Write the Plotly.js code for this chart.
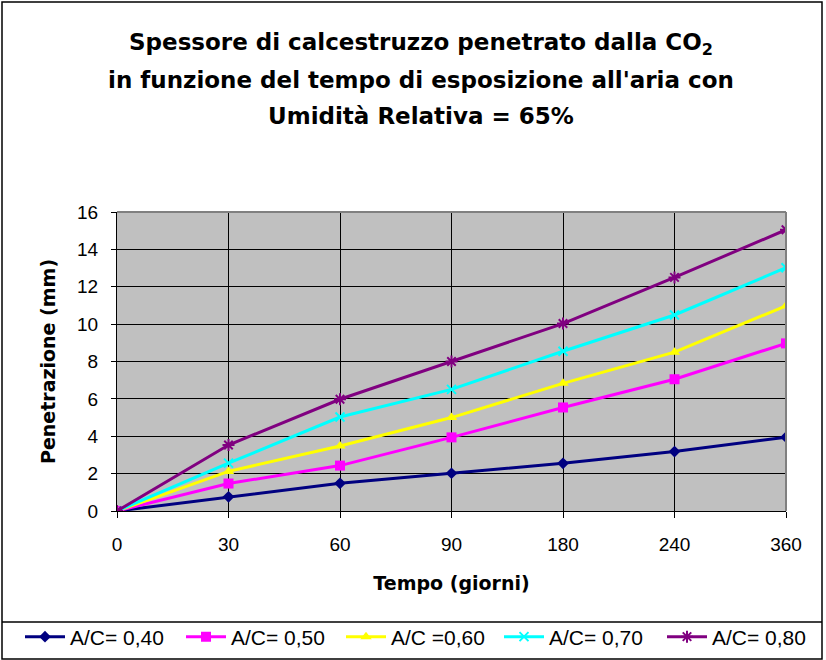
<!DOCTYPE html>
<html>
<head>
<meta charset="utf-8">
<script src="https://cdn.plot.ly/plotly-3.0.1.min.js"></script>
<style>html,body{margin:0;padding:0;background:#fff;}#chart{width:826px;height:660px;}</style>
</head>
<body>
<div id="chart"></div>
<script>
const days = ["0", "30", "60", "90", "180", "240", "360"];
const ac040 = [0, 0.76, 1.48, 2.02, 2.55, 3.18, 3.95];
const ac050 = [0, 1.47, 2.43, 3.94, 5.54, 7.05, 8.97];
const ac060 = [0, 2.12, 3.48, 5.0, 6.83, 8.5, 10.98];
const ac070 = [0, 2.56, 5.03, 6.51, 8.55, 10.49, 13.02];
const ac080 = [0, 3.53, 5.98, 8.0, 10.03, 12.5, 15.05];
const names = ["A/C= 0,40", "A/C= 0,50", "A/C =0,60", "A/C= 0,70", "A/C= 0,80"];
const yTicks = [0, 2, 4, 6, 8, 10, 12, 14, 16];
const titleLines = [
  "<b>Spessore di calcestruzzo penetrato dalla CO<sub>2</sub></b>",
  "<b>in funzione del tempo di esposizione all'aria con</b>",
  "<b>Umidità Relativa = 65%</b>"
];

const series = [ac040, ac050, ac060, ac070, ac080];
const colors = ["#000080", "#FF00FF", "#FFFF00", "#00FFFF", "#800080"];
const symbols = ["diamond", "square", "triangle-up", "x-thin", "asterisk"];
const sizes = [9, 10, 10, 9, 10];
const legendIds = ["legend", "legend2", "legend3", "legend4", "legend5"];
const legendTextX = [71, 232, 392, 550, 713];

const traces = series.map((s, i) => ({
  x: days, y: s, name: names[i], type: "scatter", mode: "lines+markers",
  legend: legendIds[i],
  line: {color: colors[i], width: 3},
  marker: {symbol: symbols[i], size: sizes[i], color: colors[i],
           line: {color: colors[i], width: (i >= 3 ? 2 : 0)}}
}));

const W = 826, H = 660, L = 117, R = 40, T = 212, B = 149;
const pw = W - L - R, ph = H - T - B;
const px = v => (v - L) / pw;
const py = v => (H - B - v) / ph;
const boldFont = "DejaVu Sans, Liberation Sans, Arial, sans-serif";

const layout = {
  width: W, height: H,
  margin: {l: L, r: R, t: T, b: B},
  paper_bgcolor: "#ffffff",
  plot_bgcolor: "#C0C0C0",
  font: {family: "Liberation Sans, Arial, sans-serif", color: "#000", size: 19},
  title: {
    text: titleLines[0],
    font: {size: 23, family: boldFont},
    x: 421 / W, xref: "container", xanchor: "center",
    y: 1 - 42 / H, yref: "container", yanchor: "middle"
  },
  annotations: [
    {text: titleLines[1], xref: "paper", yref: "paper", x: px(421), y: py(80),
     xanchor: "center", yanchor: "middle", showarrow: false, font: {size: 23, family: boldFont}},
    {text: titleLines[2], xref: "paper", yref: "paper", x: px(421), y: py(116),
     xanchor: "center", yanchor: "middle", showarrow: false, font: {size: 23, family: boldFont}}
  ],
  xaxis: {
    type: "category", range: [0, 6],
    showgrid: true, gridcolor: "#000", gridwidth: 1,
    showline: true, linecolor: "#000", linewidth: 1,
    ticks: "outside", ticklen: 6, tickcolor: "#000",
    tickfont: {size: 19}, ticklabelstandoff: 10,
    title: {text: "<b>Tempo (giorni)</b>", font: {size: 19, family: boldFont}, standoff: 22},
    zeroline: false
  },
  yaxis: {
    range: [0, 16], tickvals: yTicks,
    showgrid: true, gridcolor: "#000", gridwidth: 1,
    showline: true, linecolor: "#000", linewidth: 1,
    ticks: "outside", ticklen: 5, tickcolor: "#000",
    tickfont: {size: 19}, ticklabelstandoff: 9,
    title: {text: "<b>Penetrazione (mm)</b>", font: {size: 19, family: boldFont}, standoff: 16},
    zeroline: false
  },
  showlegend: true,
  shapes: [
    {type: "line", xref: "paper", yref: "paper", x0: 0, x1: 1, y0: 1, y1: 1, line: {color: "#808080", width: 2}, layer: "above"},
    {type: "line", xref: "paper", yref: "paper", x0: 1, x1: 1, y0: 0, y1: 1, line: {color: "#808080", width: 2}, layer: "above"},
    {type: "rect", xref: "paper", yref: "paper", x0: px(2), x1: px(822), y0: py(2), y1: py(659), line: {color: "#000", width: 1.5}, layer: "below"},
    {type: "line", xref: "paper", yref: "paper", x0: px(2), x1: px(822), y0: py(622), y1: py(622), line: {color: "#000", width: 1.5}, layer: "below"}
  ]
};

legendIds.forEach((id, i) => {
  layout[id] = {
    orientation: "h", xref: "container", yref: "container",
    x: (legendTextX[i] - 51) / W, xanchor: "left", y: 23 / H, yanchor: "middle",
    font: {size: 21}, bgcolor: "rgba(0,0,0,0)", itemwidth: 40
  };
});

Plotly.newPlot("chart", traces, layout, {displayModeBar: false, staticPlot: true});
</script>
</body>
</html>
